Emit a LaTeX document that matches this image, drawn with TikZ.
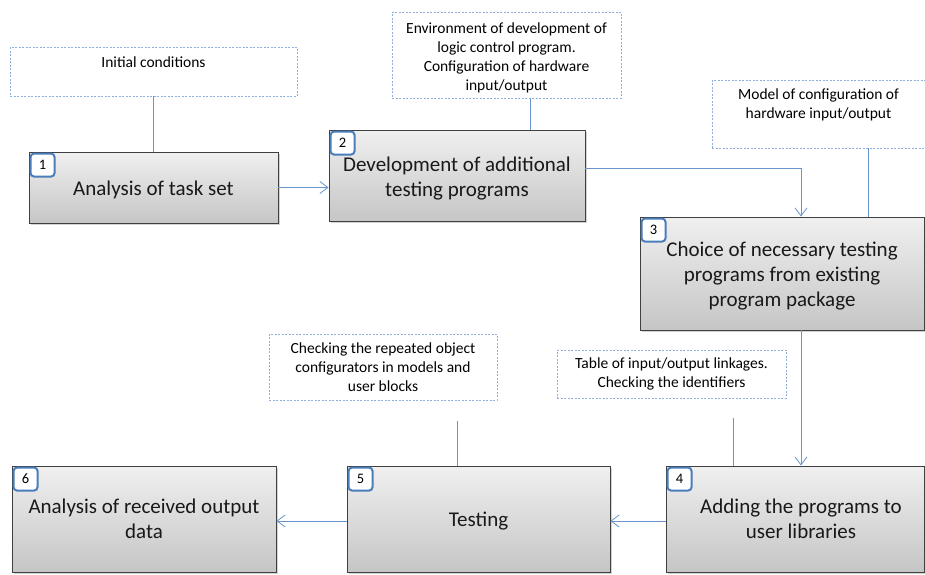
\documentclass[tikz,border=0pt]{standalone}
\usepackage{fontspec}
\setmainfont{Carlito}
\usetikzlibrary{arrows.meta,shadows,calc}
\definecolor{conn}{HTML}{6A95CC}
\definecolor{notec}{HTML}{8FB0DC}
\definecolor{badgec}{HTML}{4A7EBB}
\definecolor{boxline}{HTML}{404040}
\tikzset{
  stepbox/.style={draw=boxline, line width=0.9pt, top color=gray!12, bottom color=gray!45,
    drop shadow={shadow xshift=1.5pt, shadow yshift=-1.5pt, opacity=0.35}, inner sep=0pt},
  boxtext/.style={font=\fontsize{21}{25}\selectfont, align=center, inner sep=0pt, text=black!90},
  notebox/.style={draw=notec, dash pattern=on 2pt off 1.5pt, line width=0.8pt,
    font=\fontsize{15.5}{19}\selectfont, align=center, inner sep=0pt},
  notetext/.style={font=\fontsize{15.5}{19}\selectfont, align=center, inner sep=0pt},
  badge/.style={draw=badgec, line width=2pt, fill=white, rounded corners=3.5pt,
    minimum width=24pt, minimum height=23pt, inner sep=0pt, anchor=north west,
    font=\fontsize{14.5}{16}\selectfont},
  link/.style={draw=conn, line width=0.8pt},
  arr/.style={link, -{Straight Barb[length=8pt,width=12pt,line width=0.8pt]}}
}
\begin{document}
\begin{tikzpicture}[x=1pt,y=-1pt]
\useasboundingbox (0,0) rectangle (925,574);

% notes
\node[notebox, minimum width=287pt, minimum height=49pt] (n1) at (153.5,71.5)
  {\parbox[c][49pt][t]{287pt}{\centering\rule{0pt}{20pt}Initial conditions}};
\node[notebox, minimum width=229pt, minimum height=86pt,
  label={[notetext, yshift=-2.5pt]center:Environment of development of\\logic control program.\\Configuration of hardware\\input/output}] (n2) at (506.5,55) {};
\node[notebox, minimum width=213pt, minimum height=68pt] (n3) at (818.5,114)
  {\parbox[c][68pt][t]{213pt}{\centering\rule{0pt}{19pt}Model of configuration of\\hardware input/output}};
\node[notebox, minimum width=228pt, minimum height=66pt] (n5) at (383,367)
  {Checking the repeated object\\configurators in models and\\user blocks};
\node[notebox, minimum width=229pt, minimum height=48pt] (n4) at (671.5,374)
  {Table of input/output linkages.\\Checking the identifiers};

% boxes
\node[stepbox, minimum width=249pt, minimum height=71pt,
  label={[boxtext, yshift=-2.5pt]center:Analysis of task set}] (b1) at (153.5,187.5) {};
\node[stepbox, minimum width=256pt, minimum height=91pt,
  label={[boxtext, yshift=-3.5pt]center:Development of additional\\testing programs}] (b2) at (457,175.5) {};
\node[stepbox, minimum width=284pt, minimum height=113pt,
  label={[boxtext, yshift=-2.5pt]center:Choice of necessary testing\\programs from existing\\program package}] (b3) at (782,273.5) {};
\node[stepbox, minimum width=258pt, minimum height=106pt,
  label={[boxtext, xshift=6pt, yshift=0.5pt]center:Adding the programs to\\user libraries}] (b4) at (795,519) {};
\node[stepbox, minimum width=263pt, minimum height=106pt,
  label={[boxtext, yshift=-2.5pt]center:Testing}] (b5) at (478.5,519) {};
\node[stepbox, minimum width=264pt, minimum height=106pt,
  label={[boxtext, yshift=0.5pt]center:Analysis of received output\\data}] (b6) at (144,519) {};

% badges
\node[badge] (k1) at ($(b1.north west)+(1,1)$) {1};
\node[badge] (k2) at ($(b2.north west)+(1,1)$) {2};
\node[badge] (k3) at ($(b3.north west)+(1,1)$) {3};
\node[badge] (k4) at ($(b4.north west)+(1,1)$) {4};
\node[badge] (k5) at ($(b5.north west)+(1,1)$) {5};
\node[badge] (k6) at ($(b6.north west)+(1,1)$) {6};

% note connectors
\coordinate (x2) at (530,0);
\coordinate (x3) at (868,0);
\coordinate (t5) at (457,421);
\coordinate (t4) at (733,418);
\draw[link] (n1.south) -- (n1.south |- b1.north);
\draw[link] (n2.south -| x2) -- (b2.north -| x2);
\draw[link] (n3.south -| x3) -- (b3.north -| x3);
\draw[link] (t5) -- (b5.north -| t5);
\draw[link] (t4) -- (b4.north -| t4);

% flow connectors
\coordinate (c23) at (801,168);
\draw[arr] (b1.east) -- (b1.east -| b2.west);
\draw[arr] (b2.east |- c23) -- (c23) -- (b3.north -| c23);
\draw[arr] (b3.south -| c23) -- (b4.north -| c23);
\draw[arr] (b4.west |- 0,521) -- (b5.east |- 0,521);
\draw[arr] (b5.west |- 0,521) -- (b6.east |- 0,521);
\end{tikzpicture}
\end{document}
